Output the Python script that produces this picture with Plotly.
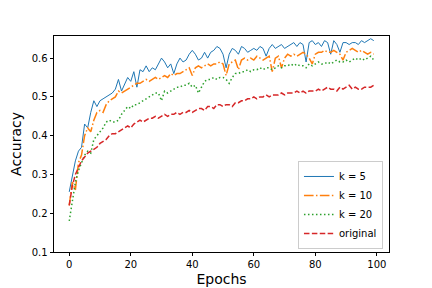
import plotly.graph_objects as go

epochs = list(range(100))

acc_k5 = [0.255, 0.30, 0.335, 0.36, 0.37, 0.43, 0.42, 0.46, 0.49, 0.475,
          0.49, 0.495, 0.50, 0.505, 0.51, 0.52, 0.545, 0.515, 0.535, 0.55,
          0.54, 0.565, 0.525, 0.57, 0.565, 0.58, 0.565, 0.575, 0.57, 0.585,
          0.60, 0.59, 0.575, 0.585, 0.56, 0.585, 0.60, 0.59, 0.595, 0.61,
          0.62, 0.61, 0.595, 0.60, 0.615, 0.60, 0.615, 0.62, 0.63, 0.625,
          0.61, 0.575, 0.61, 0.625, 0.62, 0.61, 0.63, 0.625, 0.615, 0.62,
          0.625, 0.62, 0.63, 0.625, 0.605, 0.625, 0.635, 0.625, 0.63, 0.635,
          0.625, 0.63, 0.635, 0.64, 0.63, 0.64, 0.635, 0.59, 0.64, 0.645,
          0.635, 0.64, 0.63, 0.645, 0.64, 0.61, 0.645, 0.635, 0.615, 0.64,
          0.64, 0.635, 0.64, 0.64, 0.635, 0.645, 0.64, 0.645, 0.65, 0.645]

acc_k10 = [0.22, 0.28, 0.26, 0.33, 0.35, 0.40, 0.42, 0.41, 0.44, 0.46,
           0.465, 0.46, 0.48, 0.49, 0.495, 0.50, 0.515, 0.51, 0.515, 0.52,
           0.525, 0.53, 0.535, 0.535, 0.54, 0.545, 0.54, 0.545, 0.55, 0.545,
           0.55, 0.555, 0.55, 0.56, 0.555, 0.56, 0.56, 0.565, 0.57, 0.575,
           0.555, 0.575, 0.58, 0.575, 0.58, 0.585, 0.58, 0.585, 0.585, 0.59,
           0.585, 0.555, 0.585, 0.59, 0.595, 0.57, 0.595, 0.60, 0.595, 0.60,
           0.595, 0.605, 0.60, 0.595, 0.60, 0.605, 0.565, 0.60, 0.605, 0.575,
           0.60, 0.61, 0.605, 0.61, 0.605, 0.61, 0.615, 0.61, 0.60, 0.585,
           0.61, 0.615, 0.615, 0.62, 0.615, 0.615, 0.62, 0.615, 0.61, 0.595,
           0.615, 0.62, 0.625, 0.62, 0.615, 0.62, 0.615, 0.61, 0.615, 0.61]

acc_k20 = [0.18, 0.235, 0.28, 0.31, 0.33, 0.35, 0.36, 0.355, 0.39, 0.40,
           0.41, 0.42, 0.435, 0.44, 0.435, 0.435, 0.44, 0.455, 0.465, 0.475,
           0.47, 0.48, 0.48, 0.485, 0.49, 0.495, 0.50, 0.505, 0.51, 0.51,
           0.49, 0.515, 0.51, 0.515, 0.52, 0.525, 0.525, 0.53, 0.53, 0.535,
           0.525, 0.53, 0.51, 0.525, 0.54, 0.545, 0.545, 0.55, 0.545, 0.55,
           0.55, 0.545, 0.535, 0.55, 0.56, 0.56, 0.565, 0.565, 0.57, 0.565,
           0.57, 0.57, 0.575, 0.57, 0.575, 0.575, 0.57, 0.575, 0.58, 0.575,
           0.58, 0.58, 0.585, 0.58, 0.585, 0.58, 0.58, 0.575, 0.585, 0.58,
           0.585, 0.59, 0.585, 0.585, 0.59, 0.585, 0.59, 0.595, 0.59, 0.59,
           0.595, 0.59, 0.595, 0.60, 0.595, 0.60, 0.595, 0.60, 0.605, 0.595]

acc_original = [0.22, 0.27, 0.30, 0.32, 0.335, 0.345, 0.355, 0.36, 0.365, 0.37,
                0.38, 0.385, 0.39, 0.40, 0.405, 0.405, 0.41, 0.415, 0.42, 0.425,
                0.42, 0.43, 0.435, 0.44, 0.435, 0.44, 0.445, 0.445, 0.45, 0.445,
                0.45, 0.455, 0.45, 0.455, 0.455, 0.46, 0.455, 0.46, 0.46, 0.465,
                0.46, 0.465, 0.47, 0.47, 0.465, 0.475, 0.475, 0.47, 0.48, 0.48,
                0.475, 0.48, 0.48, 0.475, 0.485, 0.485, 0.49, 0.49, 0.495, 0.495,
                0.50, 0.495, 0.50, 0.50, 0.505, 0.50, 0.505, 0.505, 0.505, 0.51,
                0.505, 0.51, 0.51, 0.51, 0.515, 0.51, 0.515, 0.51, 0.515, 0.515,
                0.515, 0.52, 0.515, 0.52, 0.525, 0.52, 0.52, 0.515, 0.525, 0.52,
                0.525, 0.53, 0.52, 0.525, 0.52, 0.52, 0.525, 0.525, 0.525, 0.53]

series_names = ["k = 5", "k = 10", "k = 20", "original"]
x_ticks = [0, 20, 40, 60, 80, 100]
y_ticks = [0.1, 0.2, 0.3, 0.4, 0.5, 0.6]

fig = go.Figure()
fig.add_trace(go.Scatter(x=epochs, y=acc_k5, mode="lines", name=series_names[0],
                         line=dict(color="#1f77b4", width=1)))
fig.add_trace(go.Scatter(x=epochs, y=acc_k10, mode="lines", name=series_names[1],
                         line=dict(color="#ff7f0e", width=1.5, dash="9.6px,2.4px,1.5px,2.4px")))
fig.add_trace(go.Scatter(x=epochs, y=acc_k20, mode="lines", name=series_names[2],
                         line=dict(color="#2ca02c", width=1.5, dash="1.5px,2.5px")))
fig.add_trace(go.Scatter(x=epochs, y=acc_original, mode="lines", name=series_names[3],
                         line=dict(color="#d62728", width=1.5, dash="5.5px,2.4px")))

axis_common = dict(showgrid=False, zeroline=False, showline=True, linecolor="black",
                   linewidth=0.8, mirror=True, ticks="outside", ticklen=3.5,
                   tickwidth=0.8, tickcolor="black", automargin=False,
                   tickfont=dict(family="DejaVu Sans", size=10, color="black"))

fig.update_layout(
    width=424, height=280,
    margin=dict(l=46, r=43, t=28, b=36),
    paper_bgcolor="white", plot_bgcolor="white",
    font=dict(family="DejaVu Sans", size=10, color="black"),
    xaxis=dict(range=[-4.95, 103.95], tickvals=x_ticks,
               title=dict(text="Epochs", font=dict(size=14), standoff=4), **axis_common),
    yaxis=dict(range=[0.1, 0.657], tickvals=y_ticks, tickformat=".1f",
               title=dict(text="Accuracy", font=dict(size=14), standoff=8), **axis_common),
    legend=dict(x=0.982, y=0.014, xanchor="right", yanchor="bottom",
                bgcolor="rgba(255,255,255,0.8)", bordercolor="#cccccc", borderwidth=1,
                font=dict(size=10), tracegroupgap=0, itemwidth=30),
    showlegend=True,
)

fig.write_html("out.html")
